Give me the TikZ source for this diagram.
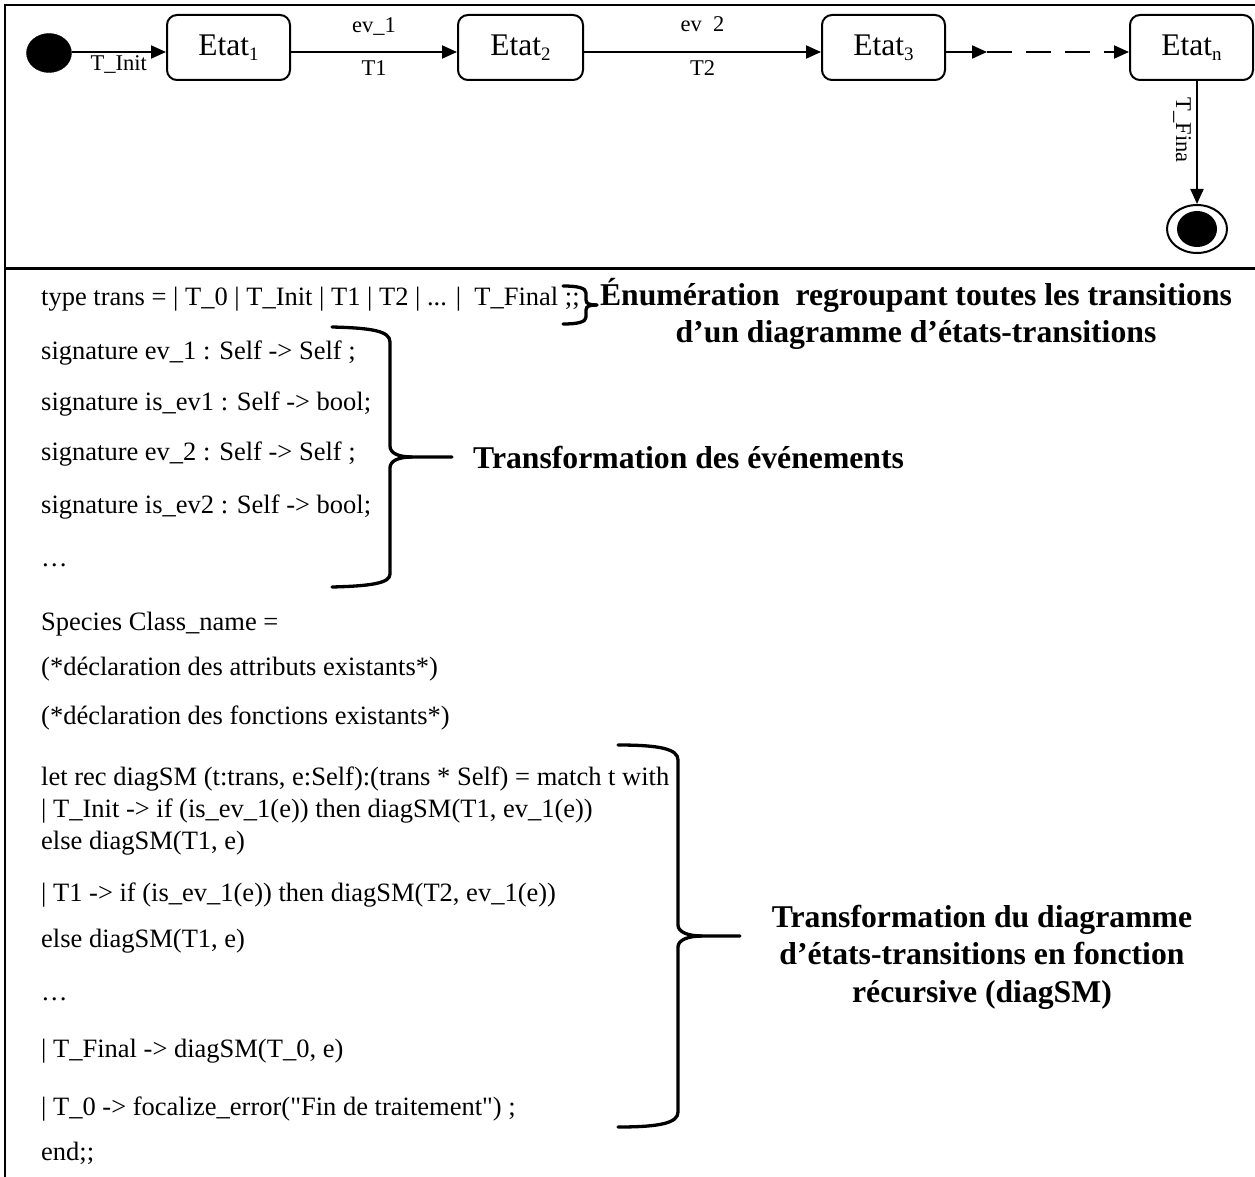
\documentclass[tikz,border=0pt]{standalone}
\usepackage{fontspec}
\setmainfont{Liberation Serif}
% same face without the TeX input mapping, so that " stays a straight quote
\newfontfamily\codefont{Liberation Serif}
\usetikzlibrary{arrows.meta,shapes.geometric}
% lowered, smaller index used in the state names
\newcommand\stidx[1]{\raisebox{-5pt}{\fontsize{19}{19}\selectfont #1}}
\begin{document}
\begin{tikzpicture}[x=1pt,y=-1pt,
  stbox/.style={draw, line width=2pt, rounded corners=10pt, minimum height=65pt,
    inner sep=0pt, font=\fontsize{31.5}{32}\selectfont},
  arr/.style={line width=2pt, -{Triangle[length=15pt,width=13pt]}},
  lbl/.style={font=\fontsize{22.5}{24}\selectfont, inner sep=0pt},
  code/.style={anchor=base west, inner sep=0pt, font=\codefont\fontsize{26.5}{30}\selectfont},
  note/.style={inner sep=0pt, align=center, font=\bfseries\fontsize{31.7}{37.5}\selectfont},
  brace/.style={line width=3.3pt, line cap=round},
  frame/.style={line width=2.5pt}]

\useasboundingbox (0,0) rectangle (1255,1177);

% frame: top edge, left edge and the separator between the two panels
\coordinate (tl) at (5,5);
\coordinate (tr) at (1255,5);
\coordinate (bl) at (5,1177);
\coordinate (sl) at (5,268);
\coordinate (sr) at (1255,268);
\draw[frame] (tr) -- (tl) -- (bl);
\draw[line width=3pt] (sl) -- (sr);

% state machine
\node[draw, fill, ellipse, minimum width=45pt, minimum height=39pt, inner sep=0pt] (ini) at (49,53) {};
\node[stbox, minimum width=123pt] (e1) at (228.5,47.5) {Etat\stidx{1}};
\node[stbox, minimum width=125pt] (e2) at (520.5,47.5) {Etat\stidx{2}};
\node[stbox, minimum width=123pt] (e3) at (883.5,47.5) {Etat\stidx{3}};
\node[stbox, minimum width=123pt] (en) at (1191.5,47.5) {Etat\stidx{n}};
\node[draw, ellipse, line width=2pt, minimum width=60pt, minimum height=48pt, inner sep=0pt] (fin) at (1197,229) {};
\node[fill, ellipse, minimum width=40pt, minimum height=36pt, inner sep=0pt] (fincore) at (fin.center) {};

\coordinate (row) at (0,52);
\coordinate (brk) at (987,52);

\draw[arr] (ini.east |- row) -- (e1.west |- row)
  node[midway, below=3pt, lbl] {T\_Init};
\draw[arr] (e1.east |- row) -- (e2.west |- row)
  node[midway, above=16pt, lbl] {ev\_1}
  node[midway, below=8pt, lbl] {T1};
\draw[arr] (e2.east |- row) -- (e3.west |- row)
  node[midway, above=17pt, lbl] {ev\phantom{\_}2}
  node[midway, below=8pt, lbl] {T2};
\draw[arr] (e3.east |- row) -- (brk);
\draw[arr, dash pattern=on 25pt off 14pt] (brk) -- (en.west |- row);
\draw[arr] (en.south -| fin.north) -- (fin.north)
  node[pos=0.4, rotate=-90, anchor=north, lbl, inner sep=5pt] {T\_Fina};

% FoCaLiZe code
\node[code] (c01) at (41,305) {type trans = | T\_0 | T\_Init | T1 | T2 | ... |~ T\_Final ;;};
\node[code] (c02) at (41,359) {signature ev\_1 : Self -> Self ;};
\node[code] (c03) at (41,410) {signature is\_ev1 : Self -> bool;};
\node[code] (c04) at (41,460) {signature ev\_2 : Self -> Self ;};
\node[code] (c05) at (41,513) {signature is\_ev2 : Self -> bool;};
\node[code] (c06) at (41,566) {…};
\node[code] (c07) at (41,630) {Species Class\_name =};
\node[code] (c08) at (41,675) {(*déclaration des attributs existants*)};
\node[code] (c09) at (41,724) {(*déclaration des fonctions existants*)};
\node[code] (c10) at (41,785) {let rec diagSM (t:trans, e:Self):(trans * Self) = match t with};
\node[code] (c11) at (41,817) {| T\_Init -> if (is\_ev\_1(e)) then diagSM(T1, ev\_1(e))};
\node[code] (c12) at (41,849) {else diagSM(T1, e)};
\node[code] (c13) at (41,901) {| T1 -> if (is\_ev\_1(e)) then diagSM(T2, ev\_1(e))};
\node[code] (c14) at (41,947) {else diagSM(T1, e)};
\node[code] (c15) at (41,1000) {…};
\node[code] (c16) at (41,1057) {| T\_Final -> diagSM(T\_0, e)};
\node[code] (c17) at (41,1115) {| T\_0 -> focalize\_error("Fin de traitement") ;};
\node[code] (c18) at (41,1160) {end;;};

% braces
\draw[brace] (563,286) .. controls (578,286) and (586,288) .. (586,293) -- (586,300)
  .. controls (586,304) and (590,305) .. (597,305);
\draw[brace] (563,324) .. controls (578,324) and (586,322) .. (586,317) -- (586,310)
  .. controls (586,306) and (590,305) .. (597,305);

\draw[brace] (332,327) .. controls (372,328) and (390,331) .. (390,342) -- (390,446)
  .. controls (390,453) and (398,457) .. (412,457) -- (452,457);
\draw[brace] (332,587) .. controls (372,586) and (390,583) .. (390,574) -- (390,468)
  .. controls (390,461) and (398,457) .. (412,457);

\draw[brace] (618,745) .. controls (660,745) and (678,749) .. (678,760) -- (678,925)
  .. controls (678,932) and (688,936) .. (702,936) -- (740,936);
\draw[brace] (618,1127) .. controls (660,1127) and (678,1123) .. (678,1112) -- (678,947)
  .. controls (678,940) and (688,936) .. (702,936);

% annotations
\node[note] (n1) at (916,314) {Énumération~ regroupant toutes les transitions\\d’un diagramme d’états-transitions};
\node[note, anchor=west] (n2) at (473,457) {Transformation des événements};
\node[note] (n3) at (982,957) {Transformation du diagramme\\d’états-transitions en fonction\\récursive (diagSM)};

\end{tikzpicture}
\end{document}
